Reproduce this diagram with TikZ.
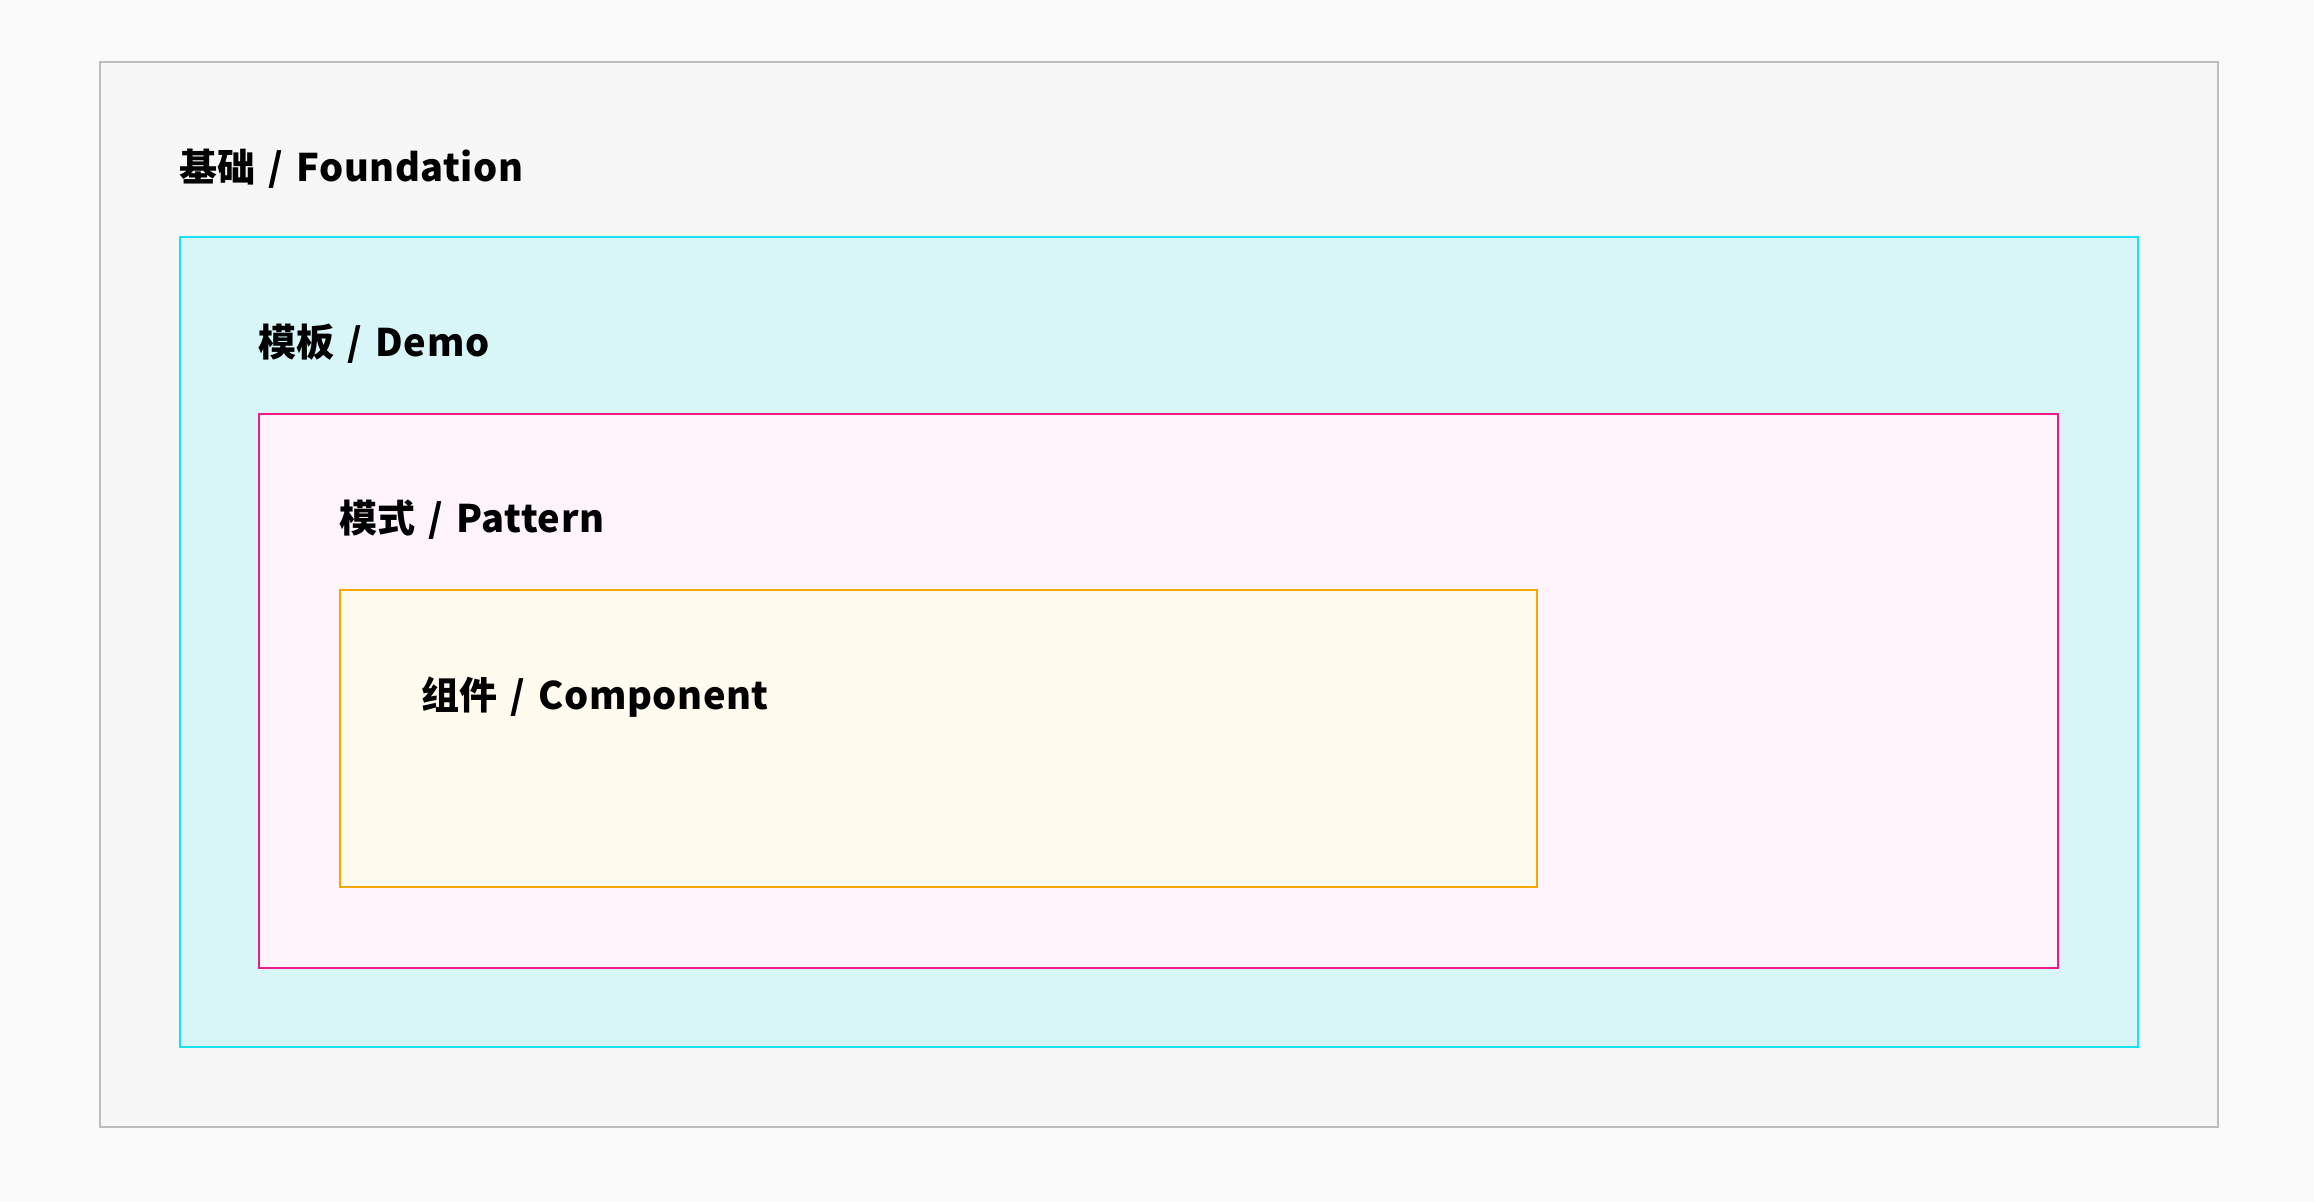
\documentclass[tikz,border=0pt]{standalone}
\usepackage{fontspec}
\newfontfamily\lbl{Noto Sans CJK SC}[WordSpace=1.4, BoldFeatures={LetterSpace=1.5}]
\definecolor{pagebg}{HTML}{FAFAFA}
\definecolor{fdfill}{HTML}{F7F7F7}
\definecolor{fddraw}{HTML}{BDBDBD}
\definecolor{dmfill}{HTML}{D8F6F8}
\definecolor{dmdraw}{HTML}{16E2F2}
\definecolor{ptfill}{HTML}{FFF4FB}
\definecolor{ptdraw}{HTML}{EE1A8C}
\definecolor{cpfill}{HTML}{FFFBEE}
\definecolor{cpdraw}{HTML}{F7A800}
\tikzset{
  layer/.style={rectangle, line width=1pt, inner sep=0pt, anchor=north west},
  layertext/.style={anchor=base west, inner sep=0pt, font=\lbl\bfseries\fontsize{19}{21}\selectfont, text=black}
}
\begin{document}
\begin{tikzpicture}[x=0.5pt,y=-0.5pt]
\fill[pagebg] (0,0) rectangle (2314,1202);
\useasboundingbox (0,0) rectangle (2314,1202);
\node (foundation) [layer, draw=fddraw, fill=fdfill, minimum width=1059pt, minimum height=532.5pt] at (99,61) {};
\node (demo) [layer, draw=dmdraw, fill=dmfill, minimum width=979pt, minimum height=405pt] at (179,236) {};
\node (pattern) [layer, draw=ptdraw, fill=ptfill, minimum width=899.5pt, minimum height=277pt] at (258,413) {};
\node (component) [layer, draw=cpdraw, fill=cpfill, minimum width=598.5pt, minimum height=148.5pt] at (339,589) {};
\node (tfoundation) [layertext] at (179,182) {基础 / Foundation};
\node (tdemo) [layertext] at (258,357) {模板 / Demo};
\node (tpattern) [layertext] at (339,533) {模式 / Pattern};
\node (tcomponent) [layertext] at (421,710) {组件 / Component};
\end{tikzpicture}
\end{document}
